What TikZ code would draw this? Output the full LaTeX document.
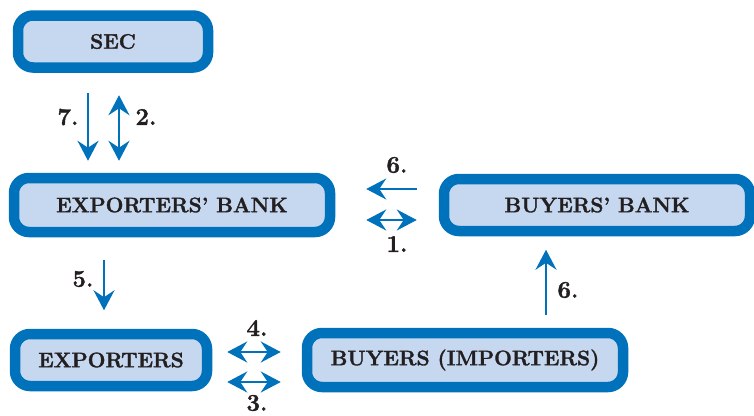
\documentclass[tikz,border=0pt]{standalone}
\usepackage{fontspec}
\setmainfont{Latin Modern Roman}[BoldFeatures={FakeBold=1.5}]
\usetikzlibrary{arrows.meta,calc}
\definecolor{boxblue}{RGB}{0,114,188}
\definecolor{boxfill}{RGB}{198,216,240}
\definecolor{txt}{RGB}{35,31,32}
\begin{document}
\begin{tikzpicture}[x=1pt,y=-1pt,
  box/.style={draw=boxblue,fill=boxfill,line width=10.5pt,rounded corners=15pt,
    font=\fontsize{21}{25}\selectfont\bfseries,text=txt,inner sep=0pt},
  tip/.style={Stealth[length=20pt,width=21pt,inset=7pt]},
  arr/.style={draw=boxblue,line width=2.6pt,-{Stealth[length=20pt,width=21pt,inset=7pt]}},
  darr/.style={draw=boxblue,line width=2.6pt,{Stealth[length=20pt,width=21pt,inset=7pt]}-{Stealth[length=20pt,width=21pt,inset=7pt]}},
  num/.style={font=\fontsize{24}{28}\selectfont\bfseries,text=txt,inner sep=0pt}]
\useasboundingbox (0,0) rectangle (754,415);
\node[box,minimum width=190pt,minimum height=52pt] (sec) at (113,41.5) {SEC};
\node[box,minimum width=316pt,minimum height=54pt] (eb) at (172,205) {EXPORTERS’ BANK};
\node[box,minimum width=306pt,minimum height=52pt] (bb) at (597,205) {BUYERS’ BANK};
\node[box,minimum width=192pt,minimum height=52pt] (ex) at (111,360) {EXPORTERS};
\node[box,minimum width=316pt,minimum height=54pt] (bi) at (465,360) {BUYERS (IMPORTERS)};
% SEC <-> exporters' bank
\draw[arr] ($(sec.south)+(-25,20.5)$) -- ($(eb.north)+(-84,-12)$);
\draw[darr] ($(sec.south)+(6,22.5)$) -- ($(eb.north)+(-53,-12)$);
% banks
\draw[arr] ($(bb.west)+(-22,-16)$) -- ($(eb.east)+(31,-16)$);
\draw[darr] ($(eb.east)+(31,15)$) -- ($(bb.west)+(-22,15)$);
% exporters' bank -> exporters
\draw[arr] ($(eb.south)+(-68,23)$) -- ($(ex.north)+(-7,-18.5)$);
% buyers -> buyers' bank
\draw[arr] ($(bi.north)+(81,-13)$) -- ($(bb.south)+(-51,13.5)$);
% exporters <-> buyers
\draw[darr] ($(ex.east)+(15,-8)$) -- ($(bi.west)+(-21,-8)$);
\draw[darr] ($(ex.east)+(15,22)$) -- ($(bi.west)+(-21,22)$);
% labels
\node[num] (l7) at (68,117) {7.};
\node[num] (l2) at (146,117) {2.};
\node[num] (l6a) at (397,165) {6.};
\node[num] (l1) at (397,244) {1.};
\node[num] (l5) at (83,279) {5.};
\node[num] (l6b) at (568,290) {6.};
\node[num] (l4) at (257,328) {4.};
\node[num] (l3) at (257,403) {3.};
\end{tikzpicture}
\end{document}
